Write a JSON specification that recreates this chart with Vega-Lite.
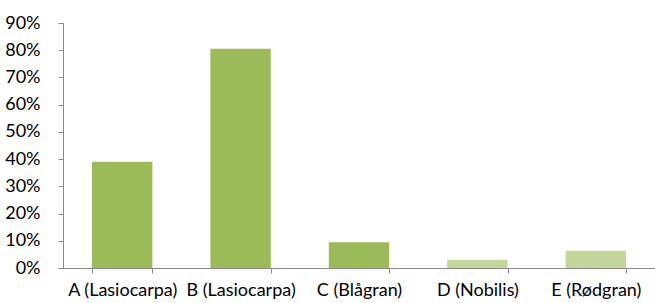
{
  "$schema": "https://vega.github.io/schema/vega-lite/v6.json",
  "width": 592,
  "height": 245,
  "autosize": "none",
  "padding": {"left": 63, "top": 23, "right": 0, "bottom": 35},
  "background": "white",
  "data": {
    "values": [
      {"art": "A (Lasiocarpa)", "andel": 0.39, "gruppe": "mørk"},
      {"art": "B (Lasiocarpa)", "andel": 0.805, "gruppe": "mørk"},
      {"art": "C (Blågran)", "andel": 0.095, "gruppe": "mørk"},
      {"art": "D (Nobilis)", "andel": 0.03, "gruppe": "lys"},
      {"art": "E (Rødgran)", "andel": 0.063, "gruppe": "lys"}
    ]
  },
  "config": {
    "view": {"stroke": null},
    "font": "Lato",
    "axis": {
      "labelFont": "Lato",
      "labelFontSize": 18,
      "labelColor": "#000000",
      "domainColor": "#888888",
      "tickColor": "#888888",
      "tickSize": 5,
      "grid": false,
      "title": null
    }
  },
  "mark": {"type": "bar"},
  "encoding": {
    "x": {
      "field": "art",
      "type": "nominal",
      "sort": null,
      "scale": {"paddingInner": 0.49, "paddingOuter": 0.245},
      "axis": {"labelAngle": 0, "tickBand": "extent", "labelPadding": 8, "ticks": true}
    },
    "y": {
      "field": "andel",
      "type": "quantitative",
      "scale": {"domain": [0, 0.9]},
      "axis": {"format": ".0%", "values": [0, 0.1, 0.2, 0.3, 0.4, 0.5, 0.6, 0.7, 0.8, 0.9], "labelPadding": 18}
    },
    "color": {
      "field": "gruppe",
      "type": "nominal",
      "scale": {"domain": ["mørk", "lys"], "range": ["#9BBB59", "#C3D69B"]},
      "legend": null
    }
  }
}
